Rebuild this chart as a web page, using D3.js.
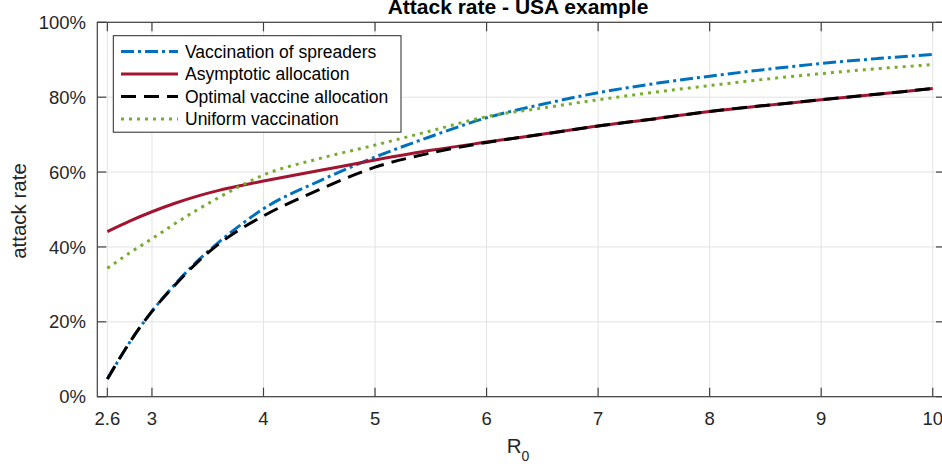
<!DOCTYPE html>
<html>
<head>
<meta charset="utf-8">
<script src="https://cdn.jsdelivr.net/npm/d3@7"></script>
<style>
  body { margin: 0; background: #fff; }
  svg { display: block; font-family: "Liberation Sans", Arial, sans-serif; }
</style>
</head>
<body>
<div id="chart"></div>
<script>
// DATA
const r0 = [2.6, 2.8, 3, 3.2, 3.4, 3.6, 3.8, 4, 4.5, 5, 5.5, 6, 6.5, 7, 7.5, 8, 8.5, 9, 9.5, 10];
const spreaders = [4.7, 14.5, 22.8, 29.8, 36, 41.3, 46, 50.2, 57.6, 64, 69.5, 74.5, 78.1, 81.2, 83.6, 85.6, 87.4, 89.0, 90.3, 91.4];
const asymptotic = [44.1, 46.9, 49.4, 51.6, 53.5, 55.1, 56.4, 57.6, 60.4, 63.2, 65.8, 68.0, 70.1, 72.3, 74.2, 76.2, 77.8, 79.3, 80.8, 82.3];
const optimal = [4.7, 14.5, 22.8, 29.6, 35.7, 40.8, 44.9, 48.3, 55.3, 61.3, 65.1, 67.9, 70.1, 72.3, 74.2, 76.2, 77.8, 79.3, 80.8, 82.3];
const uniform = [34.3, 38.4, 42.2, 46.1, 49.8, 53.2, 56.4, 59.2, 63.6, 67.2, 71.0, 74.8, 77.1, 79.3, 81.3, 83.1, 84.8, 86.3, 87.6, 88.7];

const xTicks = [2.6, 3, 4, 5, 6, 7, 8, 9, 10];
const yTicks = [0, 20, 40, 60, 80, 100];

const series = [
  { name: "Vaccination of spreaders", v: spreaders, color: "#0072BD", dash: "13,4,3,4" },
  { name: "Asymptotic allocation", v: asymptotic, color: "#A2142F", dash: null },
  { name: "Optimal vaccine allocation", v: optimal, color: "#000000", dash: "15,8" },
  { name: "Uniform vaccination", v: uniform, color: "#77AC30", dash: "3,5" }
];

const W = 942, H = 467;
const pL = 97.3, pR = 945, pT = 22.3, pB = 396.7;

const svg = d3.select("#chart").append("svg")
  .attr("width", W).attr("height", H);

const x = d3.scaleLinear().domain([2.51, 10.11]).range([pL, pR]);
const y = d3.scaleLinear().domain([0, 100]).range([pB, pT]);

// grid
const grid = svg.append("g");
grid.selectAll(".gx").data(xTicks).enter().append("line")
  .attr("x1", d => x(d)).attr("x2", d => x(d))
  .attr("y1", pT).attr("y2", pB)
  .attr("stroke", "#e3e3e3").attr("stroke-width", 1);
grid.selectAll(".gy").data(yTicks).enter().append("line")
  .attr("x1", pL).attr("x2", pR)
  .attr("y1", d => y(d)).attr("y2", d => y(d))
  .attr("stroke", "#e3e3e3").attr("stroke-width", 1);

// curves
svg.append("clipPath").attr("id", "clip").append("rect")
  .attr("x", pL).attr("y", pT).attr("width", pR - pL).attr("height", pB - pT);

const line = d3.line()
  .x((d, i) => x(r0[i]))
  .y(d => y(d))
  .curve(d3.curveMonotoneX);

const plot = svg.append("g").attr("clip-path", "url(#clip)");
series.forEach(s => {
  plot.append("path")
    .attr("d", line(s.v))
    .attr("fill", "none")
    .attr("stroke", s.color)
    .attr("stroke-width", 3)
    .attr("stroke-dasharray", s.dash);
});

// axes (box with inward ticks)
const axCol = "#404040";
const tk = 9;
const axes = svg.append("g").attr("stroke", axCol).attr("stroke-width", 1.2);
axes.append("rect").attr("x", pL).attr("y", pT)
  .attr("width", pR - pL).attr("height", pB - pT).attr("fill", "none");
xTicks.forEach(t => {
  axes.append("line").attr("x1", x(t)).attr("x2", x(t)).attr("y1", pB).attr("y2", pB - tk);
  axes.append("line").attr("x1", x(t)).attr("x2", x(t)).attr("y1", pT).attr("y2", pT + tk);
});
yTicks.forEach(t => {
  axes.append("line").attr("x1", pL).attr("x2", pL + tk).attr("y1", y(t)).attr("y2", y(t));
  axes.append("line").attr("x1", pR).attr("x2", pR - tk).attr("y1", y(t)).attr("y2", y(t));
});

// tick labels
svg.append("g").selectAll("text").data(xTicks).enter().append("text")
  .attr("x", d => x(d)).attr("y", 425)
  .attr("text-anchor", "middle")
  .attr("font-size", 18.5).attr("fill", "#262626")
  .text(d => d);
svg.append("g").selectAll("text").data(yTicks).enter().append("text")
  .attr("x", 86).attr("y", d => y(d)).attr("dy", "0.36em")
  .attr("text-anchor", "end")
  .attr("font-size", 18.5).attr("fill", "#262626")
  .text(d => d + "%");

// labels
svg.append("text")
  .attr("transform", "translate(26,211) rotate(-90)")
  .attr("text-anchor", "middle")
  .attr("font-size", 20.5).attr("fill", "#262626")
  .text("attack rate");

const xl = svg.append("text")
  .attr("x", 518).attr("y", 453)
  .attr("text-anchor", "middle")
  .attr("font-size", 20.5).attr("fill", "#262626");
xl.append("tspan").text("R");
xl.append("tspan").attr("font-size", 14).attr("dy", 8).text("0");

svg.append("text")
  .attr("x", 518).attr("y", 13.5)
  .attr("text-anchor", "middle")
  .attr("font-size", 21).attr("font-weight", "bold").attr("fill", "#000")
  .text("Attack rate - USA example");

// legend
const lg = svg.append("g");
lg.append("rect").attr("x", 113.3).attr("y", 35.7)
  .attr("width", 287.7).attr("height", 96.5)
  .attr("fill", "#fff").attr("stroke", "#262626").attr("stroke-width", 1);
series.forEach((s, i) => {
  const ly = 51.5 + i * 22.5;
  lg.append("line").attr("x1", 121).attr("x2", 178).attr("y1", ly).attr("y2", ly)
    .attr("stroke", s.color).attr("stroke-width", 3)
    .attr("stroke-dasharray", s.dash);
  lg.append("text").attr("x", 185).attr("y", ly).attr("dy", "0.36em")
    .attr("font-size", 17.5).attr("fill", "#000")
    .text(s.name);
});
</script>
</body>
</html>
